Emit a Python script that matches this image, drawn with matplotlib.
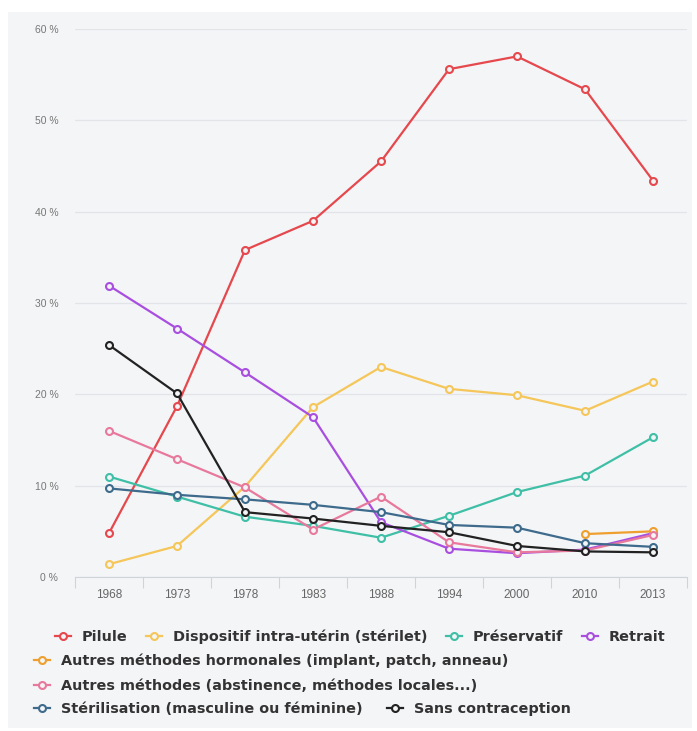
import matplotlib.pyplot as plt
import numpy as np
from matplotlib.patches import Rectangle

nan = np.nan

annees = ['1968', '1973', '1978', '1983', '1988', '1994', '2000', '2010', '2013']

pilule = [4.8, 18.7, 35.8, 39.0, 45.5, 55.6, 57.0, 53.4, 43.4]
sterilet = [1.4, 3.4, 9.9, 18.6, 23.0, 20.6, 19.9, 18.2, 21.4]
preservatif = [11.0, 8.8, 6.6, 5.6, 4.3, 6.7, 9.3, 11.1, 15.3]
retrait = [31.9, 27.2, 22.4, 17.5, 6.0, 3.1, 2.6, 3.0, 4.8]
hormonales = [nan, nan, nan, nan, nan, nan, nan, 4.7, 5.0]
autres = [16.0, 12.9, 9.8, 5.2, 8.8, 3.8, 2.7, 2.9, 4.6]
sterilisation = [9.7, 9.0, 8.5, 7.9, 7.1, 5.7, 5.4, 3.7, 3.3]
sans = [25.4, 20.1, 7.1, 6.4, 5.6, 4.9, 3.4, 2.8, 2.7]

noms = ['Pilule', 'Dispositif intra-utérin (stérilet)', 'Préservatif', 'Retrait',
        'Autres méthodes hormonales (implant, patch, anneau)',
        'Autres méthodes (abstinence, méthodes locales...)',
        'Stérilisation (masculine ou féminine)', 'Sans contraception']
series = [pilule, sterilet, preservatif, retrait, hormonales, autres, sterilisation, sans]
couleurs = ['#e5484d', '#f5c65a', '#3fbfa6', '#a94fe0', '#ee9f2e', '#e8799c', '#3e6b8c', '#222222']

fond = '#f4f5f7'
plt.rcParams['font.family'] = ['Liberation Sans', 'DejaVu Sans']

fig = plt.figure(figsize=(6.97, 7.31), dpi=100)
fig.patches.append(Rectangle((8 / 697, 3 / 731), 684 / 697, 716 / 731,
                             transform=fig.transFigure, facecolor=fond,
                             edgecolor='none', zorder=-10))
ax = fig.add_axes([75 / 697, 154 / 731, 612 / 697, 548 / 731])
ax.set_facecolor(fond)

x = np.arange(len(annees))
lignes = []
for vals, nom, c in zip(series, noms, couleurs):
    l, = ax.plot(x, vals, color=c, lw=1.6, marker='o', ms=5, mew=1.5,
                 mfc=fond, mec=c, label=nom, clip_on=False)
    lignes.append(l)

ax.set_xlim(-0.5, len(annees) - 0.5)
ax.set_ylim(0, 60)
ax.set_yticks(range(0, 61, 10))
ax.set_yticklabels(['%d %%' % v for v in range(0, 61, 10)])
ax.set_xticks(x)
ax.set_xticklabels(annees)
ax.set_xticks(np.arange(-0.5, len(annees)), minor=True)
ax.tick_params(axis='x', which='major', length=0, pad=9, labelsize=8.5, labelcolor='#666666')
ax.tick_params(axis='x', which='minor', length=8, color='#cfd3da', width=0.8)
ax.tick_params(axis='y', length=0, pad=12, labelsize=7.5, labelcolor='#777777')
ax.grid(axis='y', color='#e2e4e8', lw=0.9)
ax.set_axisbelow(True)
for s in ['top', 'right', 'left']:
    ax.spines[s].set_visible(False)
ax.spines['bottom'].set_color('#cfd3da')

# legende en 4 rangees, comme l'original
rangees = [([0, 1, 2, 3], 55, 637, 1.3), ([4], 34, 661, 1.7),
           ([5], 34, 686, 1.7), ([6, 7], 34, 709, 1.7)]
for idx, xa, ya, esp in rangees:
    leg = fig.legend([lignes[i] for i in idx], [noms[i] for i in idx],
                     loc='center left', bbox_to_anchor=(xa / 697, 1 - ya / 731),
                     ncol=len(idx), frameon=False, handlelength=1.1,
                     handletextpad=0.75, columnspacing=esp, borderpad=0,
                     borderaxespad=0,
                     prop={'family': 'DejaVu Sans', 'weight': 'bold', 'size': 10.4})
    for t in leg.get_texts():
        t.set_color('#333333')

fig.savefig('out.png', dpi=100, facecolor='white')
